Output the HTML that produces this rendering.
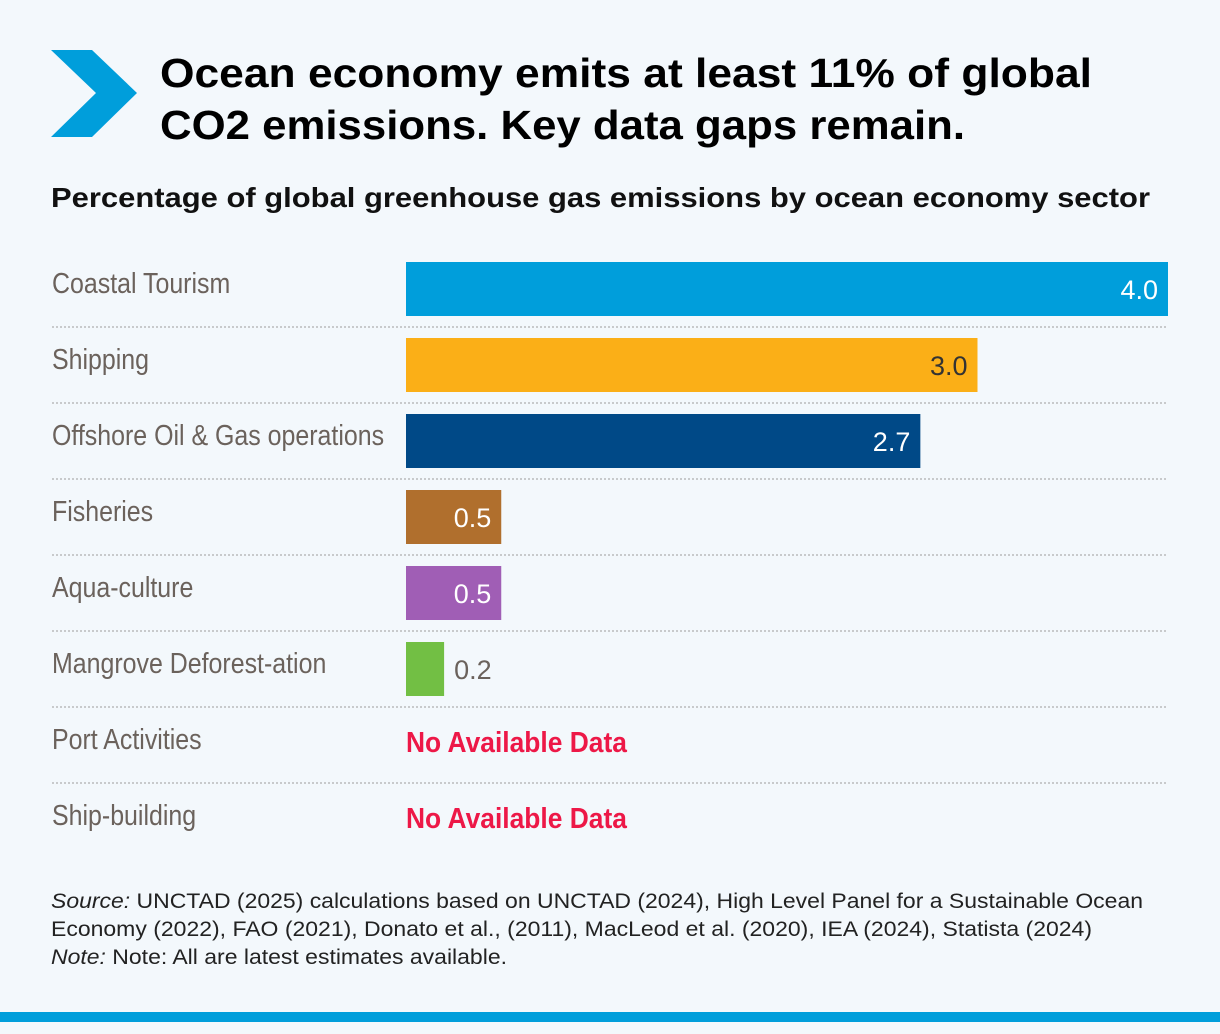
<!DOCTYPE html>
<html><head><meta charset="utf-8"><style>
body{margin:0;background:#f3f8fc;}
svg{display:block}
</style></head><body>
<svg width="1220" height="1034" viewBox="0 0 1220 1034" xmlns="http://www.w3.org/2000/svg">
<rect width="1220" height="1034" fill="#f3f8fc"/>
<polygon points="51,50 92,50 137,93 92,137 51,137 96,93" fill="#009edb"/>
<text x="160" y="87" font-family="Liberation Sans, sans-serif" font-weight="bold" font-size="41" fill="#000" textLength="932" lengthAdjust="spacingAndGlyphs">Ocean economy emits at least 11% of global</text>
<text x="160" y="139" font-family="Liberation Sans, sans-serif" font-weight="bold" font-size="41" fill="#000" textLength="805" lengthAdjust="spacingAndGlyphs">CO2 emissions. Key data gaps remain.</text>
<text x="51" y="207" font-family="Liberation Sans, sans-serif" font-weight="bold" font-size="28" fill="#111" textLength="1099" lengthAdjust="spacingAndGlyphs">Percentage of global greenhouse gas emissions by ocean economy sector</text>
<g id="bars"></g>
<text x="51" y="908" font-family="Liberation Sans, sans-serif" font-size="21" fill="#222" textLength="1092" lengthAdjust="spacingAndGlyphs"><tspan font-style="italic">Source:</tspan> UNCTAD (2025) calculations based on UNCTAD (2024), High Level Panel for a Sustainable Ocean</text>
<text x="51" y="936" font-family="Liberation Sans, sans-serif" font-size="21" fill="#222" textLength="1041" lengthAdjust="spacingAndGlyphs">Economy (2022), FAO (2021), Donato et al., (2011), MacLeod et al. (2020), IEA (2024), Statista (2024)</text>
<text x="51" y="964" font-family="Liberation Sans, sans-serif" font-size="21" fill="#222" textLength="456" lengthAdjust="spacingAndGlyphs"><tspan font-style="italic">Note:</tspan> Note: All are latest estimates available.</text>
<rect x="0" y="1012" width="1220" height="10" fill="#009edb"/>
</svg>
<script>
const categories=["Coastal Tourism","Shipping","Offshore Oil & Gas operations","Fisheries","Aqua-culture","Mangrove Deforest-ation","Port Activities","Ship-building"];
const values=[4.0,3.0,2.7,0.5,0.5,0.2,null,null];
const colors=["#009edb","#fbaf17","#004987","#b06f2d","#a05eb5","#72bf44",null,null];
const NS="http://www.w3.org/2000/svg";
const g=document.getElementById('bars');
const x0=406,scale=190.5,y0=262,step=76,bh=54;
function xs(v){return v*scale;}
function mk(t,a){const e=document.createElementNS(NS,t);for(const k in a)e.setAttribute(k,a[k]);return e;}
categories.forEach((c,i)=>{
  const y=y0+i*step;
  const lab=mk('text',{x:0,y:0,transform:`translate(52,${y+31}) scale(0.86,1)`,'font-family':'Liberation Sans, sans-serif','font-size':29,fill:'#6b625c'});
  lab.textContent=c;
  
  
  g.appendChild(lab);
  if(i<categories.length-1){
    const ln=mk('line',{x1:52,x2:1168,y1:y+65,y2:y+65,stroke:'#c8cacc','stroke-width':2,'stroke-dasharray':'2,2'});
    
    
    g.appendChild(ln);
  }
  const v=values[i];
  if(v==null){
    const t=mk('text',{x:0,y:0,transform:`translate(406,${y+34}) scale(0.91,1)`,'font-family':'Liberation Sans, sans-serif','font-weight':'bold','font-size':29,fill:'#ed1847'});
    t.textContent="No Available Data";
    
    
    g.appendChild(t);return;
  }
  const w=xs(v);
  const r=mk('rect',{x:x0,y:y,width:w,height:bh,fill:colors[i]});
  
  
  g.appendChild(r);
  const inside=w>60;
  const t=mk('text',{x:inside?x0+w-10:x0+w+10,y:y+37,'text-anchor':inside?'end':'start','font-family':'Liberation Sans, sans-serif','font-size':27,fill:inside?(i==1?'#333':'#fff'):'#6b625c'});
  t.textContent=v.toFixed(1);
  
  
  g.appendChild(t);
});
</script>
</body></html>
